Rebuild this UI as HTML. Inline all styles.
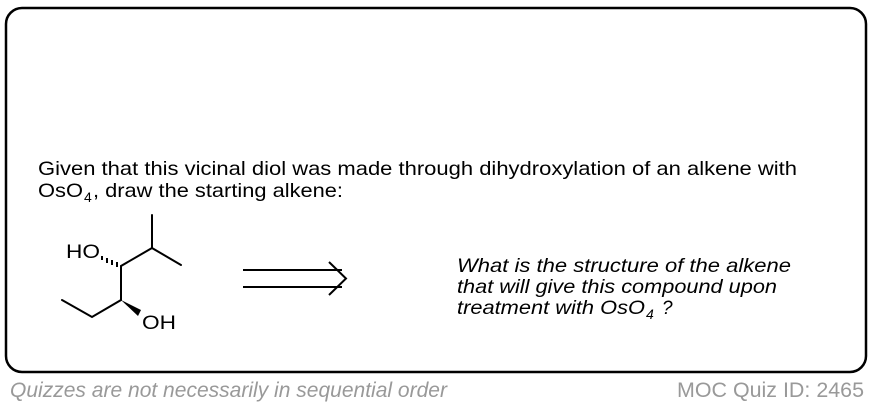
<!DOCTYPE html>
<html><head><style>
html,body{margin:0;padding:0;background:#fff;}
svg{display:block;font-family:"Liberation Sans",Arial,sans-serif;}
</style></head><body>
<svg width="874" height="404" viewBox="0 0 874 404" xmlns="http://www.w3.org/2000/svg">
<rect x="6" y="8" width="860" height="364" rx="16" ry="16" fill="#fff" stroke="#000" stroke-width="2.5"/>
<text x="38" y="175" font-size="19.5" textLength="759" lengthAdjust="spacingAndGlyphs">Given that this vicinal diol was made through dihydroxylation of an alkene with</text>
<text x="38" y="197" font-size="19.5" textLength="45" lengthAdjust="spacingAndGlyphs">OsO</text>
<text x="84" y="202" font-size="14">4</text>
<text x="93" y="197" font-size="19.5" textLength="250" lengthAdjust="spacingAndGlyphs">, draw the starting alkene:</text>
<g stroke="#000" stroke-width="2" fill="none" stroke-linecap="round">
<polyline points="152,215 152,248 181,265"/>
<polyline points="152,248 121,266 121,300 92,317 62,300"/>
</g>
<polygon points="121,300 141,310 138,316" fill="#000"/>
<g stroke="#000" stroke-width="2">
<line x1="117" y1="262" x2="117" y2="267"/>
<line x1="112" y1="260" x2="112" y2="265"/>
<line x1="107" y1="258" x2="107" y2="263"/>
<line x1="102" y1="256" x2="102" y2="260"/>
</g>
<text x="66" y="258" font-size="19" textLength="34" lengthAdjust="spacingAndGlyphs">HO</text>
<text x="142" y="329" font-size="19" textLength="34" lengthAdjust="spacingAndGlyphs">OH</text>
<g stroke="#000" stroke-width="2" fill="none">
<line x1="243" y1="270" x2="342" y2="270"/>
<line x1="243" y1="287" x2="342" y2="287"/>
<polyline points="329,262 346,278.5 329,295"/>
</g>
<g font-size="19" font-style="italic">
<text x="457" y="272" textLength="334" lengthAdjust="spacingAndGlyphs">What is the structure of the alkene</text>
<text x="457" y="293" textLength="320" lengthAdjust="spacingAndGlyphs">that will give this compound upon</text>
<text x="457" y="314" textLength="188" lengthAdjust="spacingAndGlyphs">treatment with OsO</text>
<text x="646" y="319" font-size="14">4</text>
<text x="662" y="314">?</text>
</g>
<text x="10" y="397" font-size="21" font-style="italic" fill="#999" textLength="437" lengthAdjust="spacingAndGlyphs">Quizzes are not necessarily in sequential order</text>
<text x="677" y="397" font-size="21" fill="#999" textLength="187" lengthAdjust="spacingAndGlyphs">MOC Quiz ID: 2465</text>
</svg>
</body></html>
